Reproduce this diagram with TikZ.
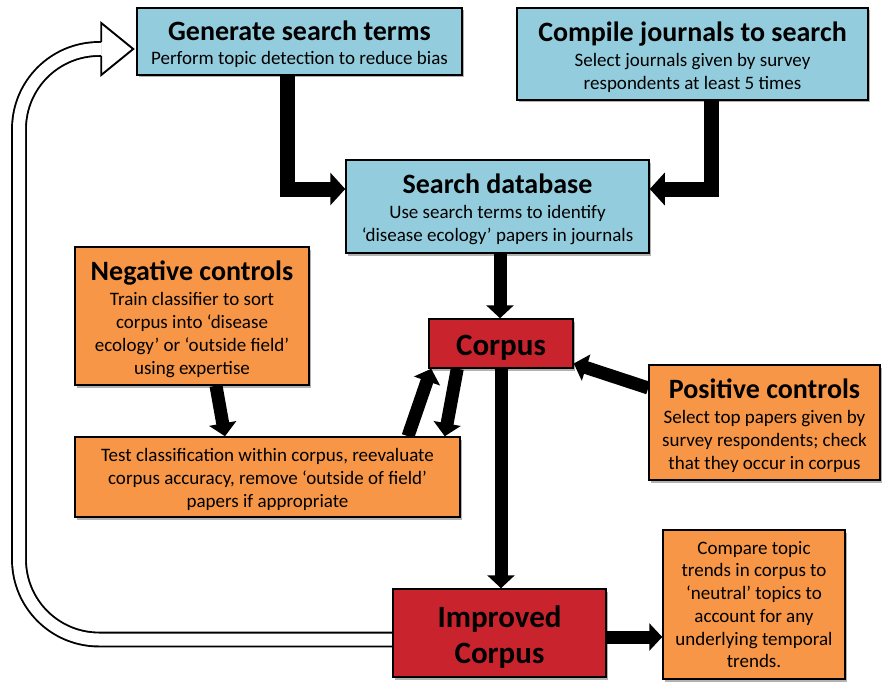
\documentclass[tikz,border=0pt]{standalone}
\usepackage{fontspec}
\setmainfont{Carlito}
\usetikzlibrary{arrows.meta,shadows,calc}
\definecolor{boxblue}{RGB}{147,205,221}
\definecolor{boxorange}{RGB}{247,150,70}
\definecolor{boxred}{RGB}{201,36,46}
\newcommand\hd[1]{{\fontsize{28}{30}\selectfont\bfseries\rule{0pt}{26pt}#1}}
\newcommand\pd[1]{\rule{0pt}{#1}}
\pgfdeclarelayer{paper}
\pgfdeclarelayer{bg}
\pgfsetlayers{paper,bg,main}
\begin{document}
\begin{tikzpicture}[x=1pt,y=-1pt,
  base/.style={draw=black, line width=1.5pt, align=center, inner sep=0pt,
    font=\fontsize{19}{23}\selectfont,
    drop shadow={shadow xshift=2pt,shadow yshift=-2.5pt,opacity=0.3,fill=black}},
  bluebox/.style={base, fill=boxblue},
  orangebox/.style={base, fill=boxorange},
  redbox/.style={base, fill=boxred, font=\fontsize{31}{36}\selectfont\bfseries},
  fat/.style={line width=15pt, -{Triangle[width=32pt,length=15pt]}},
  slim/.style={line width=13pt, -{Triangle[width=27pt,length=13pt]}},
  hollow/.style={line width=1.9pt, double=white, double distance=12pt, rounded corners=80pt}
]
\useasboundingbox (0,0) rectangle (883,682);
\begin{pgfonlayer}{paper}
\fill[white] (0,0) rectangle (883,682);
\end{pgfonlayer}

\node[bluebox, minimum width=325pt, minimum height=67pt] (gen) at (299.5,41.5)
  {\hd{Generate search terms}\\[1pt]Perform topic detection to reduce bias};
\node[bluebox, minimum width=351pt, minimum height=92pt] (comp) at (692.5,54)
  {\hd{Compile journals to search}\\[2pt]Select journals given by survey\\respondents at least 5 times};
\node[bluebox, minimum width=303pt, minimum height=93pt] (search) at (497.5,206.5)
  {\hd{Search database}\\[2pt]Use search terms to identify\\‘disease ecology’ papers in journals};
\node[orangebox, minimum width=234pt, minimum height=138pt] (neg) at (192,316)
  {\hd{Negative controls}\\[2pt]Train classifier to sort\\corpus into ‘disease\\ecology’ or ‘outside field’\\using expertise};
\node[orangebox, minimum width=385pt, minimum height=80pt] (test) at (267.5,477)
  {\pd{19pt}Test classification within corpus, reevaluate\\corpus accuracy, remove ‘outside of field’\\papers if appropriate};
\node[redbox, minimum width=144pt, minimum height=49pt] (corpus) at (501,343.5) {\pd{28pt}Corpus};
\node[orangebox, minimum width=231pt, minimum height=115pt] (pos) at (764.5,422.5)
  {\hd{Positive controls}\\[2pt]Select top papers given by\\survey respondents; check\\that they occur in corpus};
\node[redbox, minimum width=213pt, minimum height=88pt] (imp) at (499.5,633) {\pd{29pt}Improved\\Corpus};
\node[orangebox, minimum width=182pt, minimum height=149pt, font=\fontsize{19}{22.7}\selectfont] (cmp) at (754,604.5)
  {Compare topic\\trends in corpus to\\‘neutral’ topics to\\account for any\\underlying temporal\\trends.};

\begin{pgfonlayer}{bg}
\draw[fat] ([xshift=-12.5pt]gen.south) |- ([yshift=17.5pt]search.west);
\draw[fat] ([xshift=18.5pt]comp.south) |- ([yshift=17.5pt]search.east);
\draw[slim] ([xshift=2.5pt]search.south) -- ([xshift=2.5pt]search.south |- corpus.north);
\draw[slim] (corpus.south) -- (corpus.south |- imp.north);
\draw[slim] ([xshift=24pt]neg.south) -- ([xshift=-42.5pt]test.north);
\draw[slim] ([xshift=140.5pt]test.north) -- ([xshift=3pt]corpus.south west);
\draw[slim] ([xshift=29pt]corpus.south west) -- ([xshift=-16pt]test.north east);
\draw[slim] ([yshift=34.5pt]pos.west) -- ([yshift=-20pt]corpus.east);
\draw[slim] ([yshift=-4pt]imp.east) -- ([yshift=-4pt]imp.east -| cmp.west);

\coordinate (htip) at ([xshift=-3pt,yshift=-7.5pt]gen.west);
\coordinate (hbase) at ($(htip)+(-32,0)$);
\coordinate (lbl) at (19,639.5);
\coordinate (ltl) at (19,49);
\draw[hollow] ([xshift=2pt,yshift=-6.5pt]imp.west) -- (lbl) -- (ltl) -- (hbase);
\fill[white] ($(hbase)+(0,-26)$) -- (htip) -- ($(hbase)+(0,26)$) -- cycle;
\draw[line width=1.9pt, line join=miter] ($(hbase)+(0,-6.95)$) -- ($(hbase)+(0,-26)$) -- (htip) -- ($(hbase)+(0,26)$) -- ($(hbase)+(0,6.95)$);
\end{pgfonlayer}
\end{tikzpicture}
\end{document}
